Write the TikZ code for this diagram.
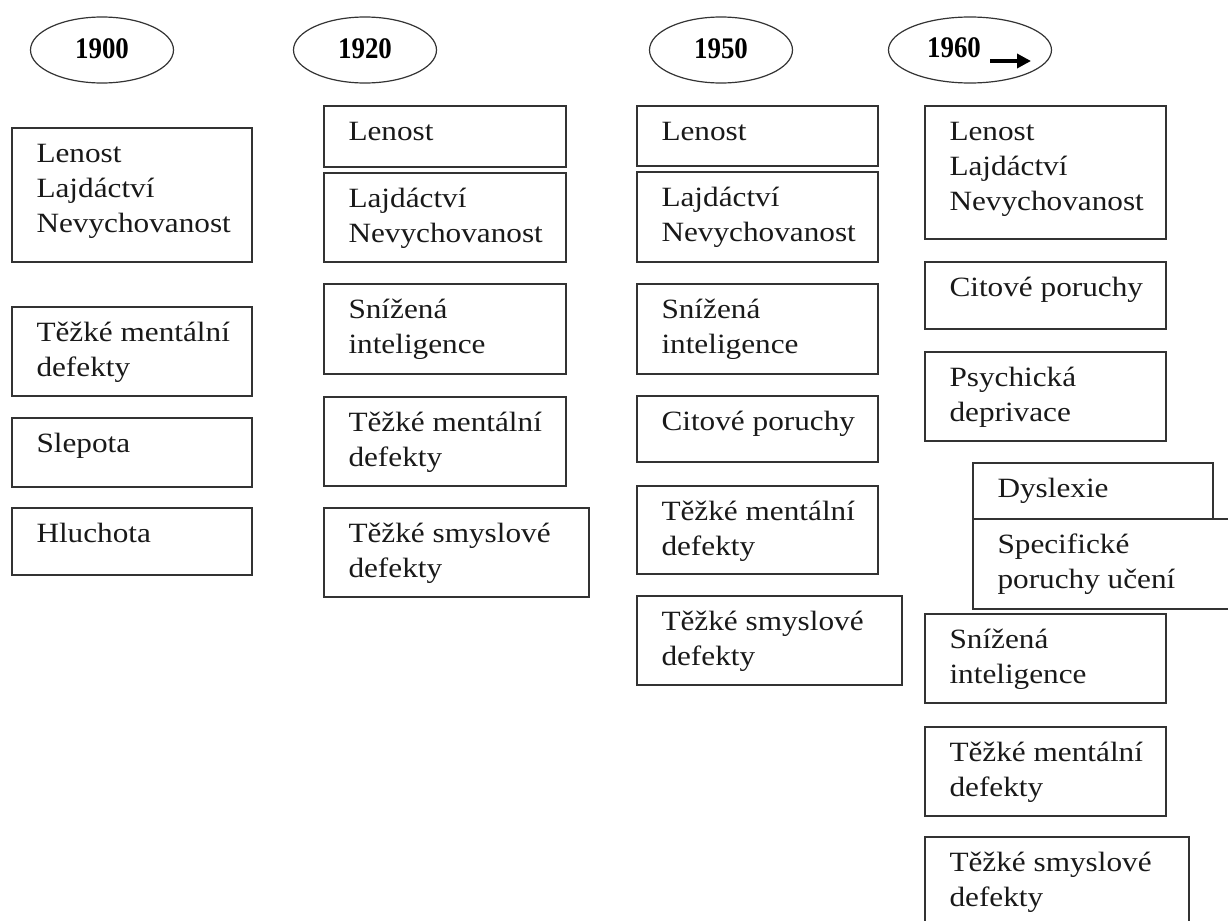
\documentclass[tikz,border=0pt]{standalone}
\usepackage{fontspec}
\setmainfont[FakeStretch=1.12]{Liberation Serif}
\newfontfamily\yearfont[FakeStretch=0.9]{Liberation Serif}
\usetikzlibrary{shapes.geometric,arrows.meta,fit}

\tikzset{
  frame/.style={draw=black!80, line width=1.4bp, inner sep=0pt, rectangle},
  era/.style={draw=black!80, line width=1.2bp, ellipse, inner sep=0pt,
              minimum width=143bp, minimum height=66bp},
  yeartext/.style={font=\yearfont\fontsize{30}{34}\selectfont\bfseries,
                   inner sep=0pt, anchor=base},
  celltext/.style={anchor=base west, inner sep=0pt, text=black!90,
                   font=\fontsize{28}{35}\selectfont}
}

% \cell{name}{left}{top}{right}{bottom}{lines}
\newcommand\cell[6]{%
  \node[frame, fit={(#2,#3) (#4,#5)}] (#1) {};
  \node[celltext] (#1-t) at ([xshift=25bp,yshift=-35bp]#1.north west)
    {\vtop{\baselineskip=35bp #6}};
}

\begin{document}
\begin{tikzpicture}[x=1bp,y=-1bp]
\useasboundingbox (0,0) rectangle (1228,921);
\clip (0,0) rectangle (1228,921);

% period headings
\node[era] (e1900) at (102,50) {};
\node[yeartext] (y1900) at (102,58) {1900};
\node[era] (e1920) at (365,50) {};
\node[yeartext] (y1920) at (365,58) {1920};
\node[era] (e1950) at (721,50) {};
\node[yeartext] (y1950) at (721,58) {1950};
\node[era, minimum width=163bp] (e1960) at (970,50) {};
\node[yeartext] (y1960) at (954,57) {1960};
\coordinate (arrS) at (990,61);
\coordinate (arrE) at (1031,61);
\draw[line width=3.4bp, -{Triangle[length=14bp,width=14bp]}] (arrS) -- (arrE);

% 1900
\cell{a1}{12}{128}{252}{262}{\hbox{Lenost}\hbox{Lajdáctví}\hbox{Nevychovanost}}
\cell{a2}{12}{307}{252}{396}{\hbox{Těžké mentální}\hbox{defekty}}
\cell{a3}{12}{418}{252}{487}{\hbox{Slepota}}
\cell{a4}{12}{508}{252}{575}{\hbox{Hluchota}}

% 1920
\cell{b1}{324}{106}{566}{167}{\hbox{Lenost}}
\cell{b2}{324}{173}{566}{262}{\hbox{Lajdáctví}\hbox{Nevychovanost}}
\cell{b3}{324}{284}{566}{374}{\hbox{Snížená}\hbox{inteligence}}
\cell{b4}{324}{397}{566}{486}{\hbox{Těžké mentální}\hbox{defekty}}
\cell{b5}{324}{508}{589}{597}{\hbox{Těžké smyslové}\hbox{defekty}}

% 1950
\cell{c1}{637}{106}{878}{166}{\hbox{Lenost}}
\cell{c2}{637}{172}{878}{262}{\hbox{Lajdáctví}\hbox{Nevychovanost}}
\cell{c3}{637}{284}{878}{374}{\hbox{Snížená}\hbox{inteligence}}
\cell{c4}{637}{396}{878}{462}{\hbox{Citové poruchy}}
\cell{c5}{637}{486}{878}{574}{\hbox{Těžké mentální}\hbox{defekty}}
\cell{c6}{637}{596}{902}{685}{\hbox{Těžké smyslové}\hbox{defekty}}

% 1960 onwards
\cell{d1}{925}{106}{1166}{239}{\hbox{Lenost}\hbox{Lajdáctví}\hbox{Nevychovanost}}
\cell{d2}{925}{262}{1166}{329}{\hbox{Citové poruchy}}
\cell{d3}{925}{352}{1166}{441}{\hbox{Psychická}\hbox{deprivace}}
\cell{d4}{973}{463}{1213}{519}{\hbox{Dyslexie}}
\cell{d5}{973}{519}{1245}{609}{\hbox{Specifické}\hbox{poruchy učení}}
\cell{d6}{925}{614}{1166}{703}{\hbox{Snížená}\hbox{inteligence}}
\cell{d7}{925}{727}{1166}{816}{\hbox{Těžké mentální}\hbox{defekty}}
\cell{d8}{925}{837}{1189}{935}{\hbox{Těžké smyslové}\hbox{defekty}}
\end{tikzpicture}
\end{document}
